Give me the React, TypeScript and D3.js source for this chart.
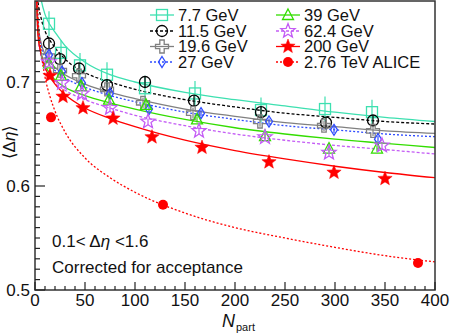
import React from "react";
import * as d3 from "d3";

// measured points: Npart and <Δη> per energy
const npart7 = [14, 26, 45, 72, 110, 160, 226, 290, 337];
const npart11 = [14, 25, 44, 72, 110, 159, 226, 291, 338];
const npart19 = [13, 25, 44, 72, 108, 158, 225, 289, 338];
const npart27 = [14, 27, 47, 75, 114, 166, 234, 299, 343];
const npart39 = [14, 26, 46, 74, 111, 162, 230, 294, 342];
const npart62 = [14, 27, 47, 75, 113, 164, 230, 294, 347];
const npart200 = [15, 28, 48, 78, 117, 167, 234, 299, 350];
const npartAlice = [16, 128, 383];

const deta7 = [0.756, 0.728, 0.716, 0.707, 0.694, 0.689, 0.673, 0.674, 0.671];
const deta11 = [0.737, 0.722, 0.713, 0.697, 0.7, 0.682, 0.671, 0.661, 0.663];
const deta19 = [0.725, 0.711, 0.706, 0.693, 0.68, 0.67, 0.662, 0.658, 0.653];
const deta27 = [0.726, 0.71, 0.699, 0.689, 0.674, 0.67, 0.662, 0.654, 0.645];
const deta39 = [0.718, 0.706, 0.696, 0.683, 0.678, 0.664, 0.648, 0.636, 0.636];
const deta62 = [0.719, 0.699, 0.689, 0.675, 0.662, 0.653, 0.647, 0.632, 0.639];
const deta200 = [0.706, 0.686, 0.675, 0.665, 0.647, 0.637, 0.623, 0.613, 0.607];
const detaAlice = [0.666, 0.582, 0.526];

const errs = [0.012, 0.005, 0.005, 0.003, 0.003, 0.003, 0.003, 0];

// fit curves
const fitN = [1, 3, 6, 10, 15, 20, 30, 50, 75, 100, 150, 200, 250, 300, 350, 400];
const fit7 = [0.85, 0.8, 0.78, 0.765, 0.755, 0.748, 0.735, 0.719, 0.707, 0.7, 0.69, 0.683, 0.677, 0.671, 0.666, 0.662];
const fit11 = [0.82, 0.778, 0.762, 0.749, 0.74, 0.733, 0.722, 0.709, 0.7, 0.693, 0.683, 0.676, 0.67, 0.666, 0.662, 0.6596];
const fit19 = [0.8, 0.758, 0.738, 0.727, 0.719, 0.714, 0.707, 0.698, 0.69, 0.684, 0.674, 0.667, 0.661, 0.657, 0.653, 0.6506];
const fit27 = [0.8, 0.755, 0.735, 0.724, 0.716, 0.711, 0.704, 0.695, 0.687, 0.681, 0.671, 0.664, 0.658, 0.654, 0.65, 0.6474];
const fit39 = [0.79, 0.748, 0.728, 0.716, 0.708, 0.702, 0.695, 0.687, 0.68, 0.674, 0.664, 0.656, 0.65, 0.645, 0.641, 0.637];
const fit62 = [0.79, 0.745, 0.725, 0.713, 0.705, 0.699, 0.692, 0.683, 0.675, 0.668, 0.658, 0.65, 0.644, 0.639, 0.635, 0.6308];
const fit200 = [0.8, 0.745, 0.727, 0.714, 0.705, 0.698, 0.688, 0.675, 0.665, 0.657, 0.644, 0.634, 0.626, 0.619, 0.613, 0.608];
const fitAlice = [0.82, 0.763, 0.73, 0.705, 0.686, 0.672, 0.652, 0.627, 0.608, 0.594, 0.574, 0.56, 0.55, 0.541, 0.533, 0.527];

const labels = ["7.7 GeV", "11.5 GeV", "19.6 GeV", "27 GeV", "39 GeV", "62.4 GeV", "200 GeV", "2.76 TeV ALICE"];
const colors = ["#3de0b0", "#000000", "#808080", "#2f4cff", "#33dd00", "#c45cf5", "#ff0000", "#ff0000"];
const markers = ["square", "circle", "cross", "diamond", "triangle", "star", "starFilled", "dot"];
const dashes = [null, "3,2", null, "2,2", null, "3,2", null, "2,2"];

const allN = [npart7, npart11, npart19, npart27, npart39, npart62, npart200, npartAlice];
const allY = [deta7, deta11, deta19, deta27, deta39, deta62, deta200, detaAlice];
const allFit = [fit7, fit11, fit19, fit27, fit39, fit62, fit200, fitAlice];

const W = 450;
const H = 335;
const font = "'Liberation Sans', Arial, Helvetica, sans-serif";

const starPath = (r: number, r2: number) => {
  const pts: string[] = [];
  for (let i = 0; i < 10; i++) {
    const rr = i % 2 === 0 ? r : r2;
    const a = -Math.PI / 2 + (i * Math.PI) / 5;
    pts.push(`${(rr * Math.cos(a)).toFixed(2)},${(rr * Math.sin(a)).toFixed(2)}`);
  }
  return "M" + pts.join("L") + "Z";
};

const Marker = ({ kind, color, x, y }: { kind: string; color: string; x: number; y: number }) => {
  const t = `translate(${x},${y})`;
  const sw = 1.3;
  switch (kind) {
    case "square":
      return <rect transform={t} x={-5.5} y={-5.5} width={11} height={11} fill="none" stroke={color} strokeWidth={sw} />;
    case "circle":
      return <circle transform={t} r={5.5} fill="none" stroke={color} strokeWidth={sw} />;
    case "cross":
      return (
        <path
          transform={t}
          d="M-2.2,-6.5H2.2V-2.2H6.5V2.2H2.2V6.5H-2.2V2.2H-6.5V-2.2H-2.2Z"
          fill="none"
          stroke={color}
          strokeWidth={sw}
        />
      );
    case "diamond":
      return <path transform={t} d="M0,-5.5L3.5,0L0,5.5L-3.5,0Z" fill="none" stroke={color} strokeWidth={sw} />;
    case "triangle":
      return <path transform={t} d="M0,-6L5.5,4.5L-5.5,4.5Z" fill="none" stroke={color} strokeWidth={sw} />;
    case "star":
      return <path transform={t} d={starPath(7.5, 3.2)} fill="none" stroke={color} strokeWidth={sw} />;
    case "starFilled":
      return <path transform={t} d={starPath(7.5, 3.2)} fill={color} stroke={color} strokeWidth={0.5} />;
    default:
      return <circle transform={t} r={5} fill={color} />;
  }
};

export default function App() {
  const x = d3.scaleLinear().domain([0, 400]).range([35, 435]);
  const y = d3.scaleLinear().domain([0.5, 0.78]).range([290, -1.2]);
  const line = d3
    .line<number>()
    .x((_, i) => x(fitN[i]))
    .y(d => y(d))
    .curve(d3.curveMonotoneX);

  const xMajor = d3.range(0, 401, 50);
  const xMinor = d3.range(0, 401, 10).filter(v => v % 50 !== 0);
  const yMajor = [0.5, 0.6, 0.7];
  const yMinor = d3.range(51, 78).map(v => v / 100).filter(v => Math.round(v * 100) % 10 !== 0);

  const legendRows = [15, 31, 46.5, 62];

  return (
    <svg width={W} height={H} style={{ position: "absolute", left: 0, top: 0, background: "#fff" }} fontFamily={font}>
      <defs>
        <clipPath id="plot">
          <rect x={35} y={1} width={400} height={289} />
        </clipPath>
      </defs>

      {/* fit curves */}
      <g clipPath="url(#plot)">
        {allFit.map((f, i) => (
          <path key={i} d={line(f) || ""} fill="none" stroke={colors[i]} strokeWidth={1.3} strokeDasharray={dashes[i] || undefined} />
        ))}
      </g>

      {/* data points */}
      {allN.map((ns, s) => (
        <g key={s}>
          {ns.map((n, i) =>
            errs[s] > 0 ? (
              <line key={"e" + i} x1={x(n)} x2={x(n)} y1={y(allY[s][i] - errs[s])} y2={y(allY[s][i] + errs[s])} stroke={colors[s]} strokeWidth={1.2} />
            ) : null
          )}
          {ns.map((n, i) => (
            <Marker key={i} kind={markers[s]} color={colors[s]} x={x(n)} y={y(allY[s][i])} />
          ))}
        </g>
      ))}

      {/* frame */}
      <rect x={35} y={1} width={400} height={289} fill="none" stroke="#333" strokeWidth={1.5} />

      {/* ticks */}
      {xMajor.map(v => (
        <g key={"xm" + v}>
          <line x1={x(v)} x2={x(v)} y1={290} y2={282} stroke="#222" strokeWidth={1.2} />
          <text x={x(v)} y={306} fontSize={17} textAnchor="middle" fill="#111">{v}</text>
        </g>
      ))}
      {xMinor.map(v => (
        <line key={"xn" + v} x1={x(v)} x2={x(v)} y1={290} y2={286} stroke="#222" strokeWidth={1.2} />
      ))}
      {yMajor.map(v => (
        <g key={"ym" + v}>
          <line x1={35} x2={45} y1={y(v)} y2={y(v)} stroke="#222" strokeWidth={1.2} />
          <text x={30} y={y(v) + 6} fontSize={17} textAnchor="end" fill="#111">{v.toFixed(1)}</text>
        </g>
      ))}
      {yMinor.map(v => (
        <line key={"yn" + v} x1={35} x2={40} y1={y(v)} y2={y(v)} stroke="#222" strokeWidth={1.2} />
      ))}

      {/* axis titles */}
      <text x={222} y={327} fontSize={18} fontStyle="italic" fill="#111">N</text>
      <text x={236} y={331} fontSize={11} fill="#111">part</text>
      <text transform="translate(15,142) rotate(-90)" fontSize={17} textAnchor="middle" fill="#111">
        ⟨Δ<tspan fontStyle="italic">η</tspan>⟩
      </text>

      {/* annotations */}
      <text x={52} y={247} fontSize={17} fill="#111">
        0.1&lt; Δ<tspan fontStyle="italic">η</tspan> &lt;1.6
      </text>
      <text x={52} y={273} fontSize={17} fill="#111">Corrected for acceptance</text>

      {/* legend */}
      {labels.map((lab, i) => {
        const col = i < 4 ? 0 : 1;
        const cy = legendRows[i % 4];
        const x0 = col === 0 ? 150 : 276;
        return (
          <g key={lab}>
            <line x1={x0} x2={x0 + 24} y1={cy} y2={cy} stroke={colors[i]} strokeWidth={1.3} strokeDasharray={dashes[i] || undefined} />
            <Marker kind={markers[i]} color={colors[i]} x={x0 + 12} y={cy} />
            <text x={x0 + 28} y={cy + 5.5} fontSize={16.5} fill="#111">{lab}</text>
          </g>
        );
      })}
    </svg>
  );
}
